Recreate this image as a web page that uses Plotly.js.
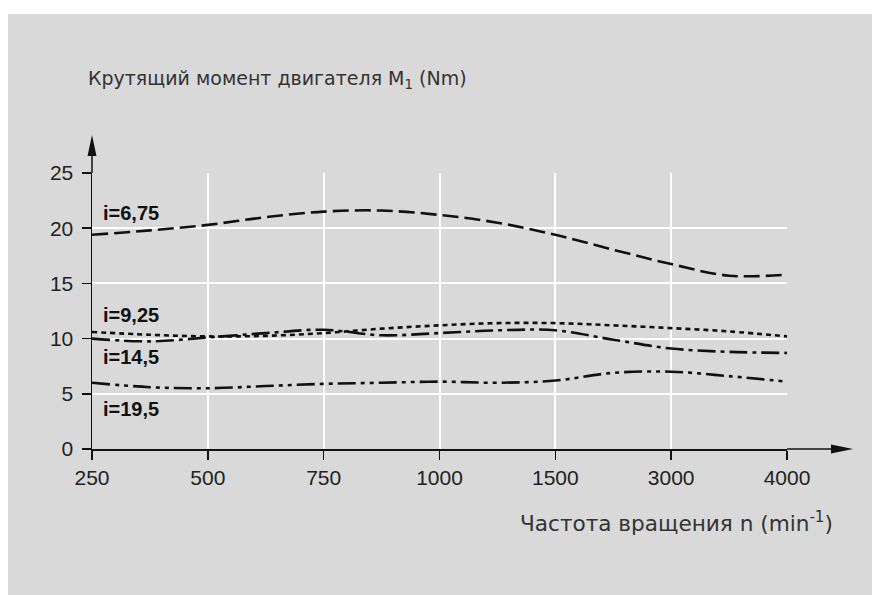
<!DOCTYPE html>
<html><head><meta charset="utf-8">
<script src="https://cdn.plot.ly/plotly-3.0.1.min.js"></script>
<style>html,body{margin:0;padding:0;background:#fff}#chart{width:872px;height:595px}</style>
</head><body><div id="chart"></div>
<script>
const tickRpm = [250, 500, 750, 1000, 1500, 3000, 4000];
const tickText = ["250", "500", "750", "1000", "1500", "3000", "4000"];
const rpm = [250, 375, 500, 625, 750, 875, 1000, 1250, 1500, 2250, 3000, 3500, 4000];
const torque_i675 = [19.4, 19.8, 20.3, 21.0, 21.5, 21.6, 21.2, 20.5, 19.4, 18.05, 16.75, 15.7, 15.8];
const torque_i925 = [10.6, 10.35, 10.2, 10.25, 10.5, 10.9, 11.2, 11.4, 11.4, 11.2, 10.95, 10.65, 10.2];
const torque_i145 = [10.0, 9.75, 10.1, 10.5, 10.8, 10.3, 10.5, 10.75, 10.75, 9.9, 9.1, 8.8, 8.7];
const torque_i195 = [6.0, 5.6, 5.5, 5.7, 5.9, 6.0, 6.1, 6.0, 6.2, 6.9, 7.0, 6.6, 6.1];
const seriesNames = ["i=6,75", "i=9,25", "i=14,5", "i=19,5"];
const labelY = [21.4, 12.1, 8.3, 3.6];
const yTicks = [0, 5, 10, 15, 20, 25];

// piecewise scale: rpm -> evenly spaced tick index
function pos(v) {
  for (let k = 0; k < tickRpm.length - 1; k++) {
    if (v <= tickRpm[k + 1]) return k + (v - tickRpm[k]) / (tickRpm[k + 1] - tickRpm[k]);
  }
  return tickRpm.length - 1;
}
const xs = rpm.map(pos);
const dashes = ["16px,6px", "5px,4px", "18px,5px,4px,5px", "18px,5px,4px,5px,4px,5px"];
const values = [torque_i675, torque_i925, torque_i145, torque_i195];

const traces = values.map((v, k) => ({
  x: xs, y: v, type: 'scatter', mode: 'lines', name: seriesNames[k],
  line: {color: '#111', width: 2.6, dash: dashes[k], shape: 'spline', smoothing: 1},
  hoverinfo: 'skip', cliponaxis: false
}));

const font = "Liberation Sans, Arial, sans-serif";
const annotations = seriesNames.map((n, k) => ({
  xref: 'paper', yref: 'y', x: 0.013, y: labelY[k], xanchor: 'left', yanchor: 'middle',
  text: '<b>' + n + '</b>', showarrow: false, font: {family: font, size: 20, color: '#111'}
}));
annotations.push({
  xref: 'paper', yref: 'paper', x: -0.009, y: 1.337, xanchor: 'left', yanchor: 'middle',
  text: 'Крутящий момент двигателя M<sub>1</sub> (Nm)', showarrow: false,
  font: {family: "DejaVu Sans, sans-serif", size: 19, color: '#333'}
});
annotations.push({
  xref: 'paper', yref: 'paper', x: 0.613, y: -0.2645, xanchor: 'left', yanchor: 'middle',
  text: 'Частота вращения n (min<sup>-1</sup>)', showarrow: false,
  font: {family: "DejaVu Sans, sans-serif", size: 21.6, color: '#333'}
});

const layout = {
  width: 872, height: 595,
  paper_bgcolor: '#d9d9d9', plot_bgcolor: '#d9d9d9',
  margin: {l: 92, r: 85, t: 173, b: 146},
  showlegend: false,
  xaxis: {
    range: [0, tickRpm.length - 1], tickmode: 'array', tickvals: tickRpm.map(pos), ticktext: tickText,
    showgrid: true, gridcolor: '#ffffff', gridwidth: 2, zeroline: false,
    showline: true, linecolor: '#111', linewidth: 1.5,
    ticks: 'outside', ticklen: 9, tickwidth: 1.5, tickcolor: '#111',
    tickfont: {family: font, size: 21, color: '#222'}, fixedrange: true
  },
  yaxis: {
    range: [0, 25], tickmode: 'array', tickvals: yTicks,
    showgrid: true, gridcolor: '#ffffff', gridwidth: 2, zeroline: false,
    showline: true, linecolor: '#111', linewidth: 1.5,
    ticks: 'outside', ticklen: 9, tickwidth: 1.5, tickcolor: '#111', ticklabelstandoff: 4,
    tickfont: {family: font, size: 21, color: '#222'}, fixedrange: true
  },
  shapes: [
    {type: 'rect', xref: 'paper', yref: 'paper', x0: -0.2, x1: 1.3, y0: 1.576, y1: 1.7, fillcolor: '#ffffff', line: {width: 0}, layer: 'below'},
    {type: 'rect', xref: 'paper', yref: 'paper', x0: -0.2, x1: -0.1209, y0: -0.6, y1: 1.7, fillcolor: '#ffffff', line: {width: 0}, layer: 'below'},
    // axis arrow extensions
    {type: 'line', xref: 'paper', yref: 'paper', x0: 0, x1: 0, y0: 1, y1: 1.10, line: {color: '#111', width: 1.5}},
    {type: 'line', xref: 'paper', yref: 'paper', x0: 1, x1: 1.07, y0: 0, y1: 0, line: {color: '#111', width: 1.5}},
    {type: 'path', xref: 'paper', yref: 'paper', xsizemode: 'pixel', ysizemode: 'pixel', xanchor: 0, yanchor: 1.1377,
     path: 'M0,0 L-4.5,-21 L4.5,-21 Z', fillcolor: '#111', line: {width: 0}},
    {type: 'path', xref: 'paper', yref: 'paper', xsizemode: 'pixel', ysizemode: 'pixel', xanchor: 1.095, yanchor: 0,
     path: 'M0,0 L-22,4.5 L-22,-4.5 Z', fillcolor: '#111', line: {width: 0}}
  ],
  annotations: annotations
};
Plotly.newPlot('chart', traces, layout, {displayModeBar: false, staticPlot: true});
</script></body></html>
